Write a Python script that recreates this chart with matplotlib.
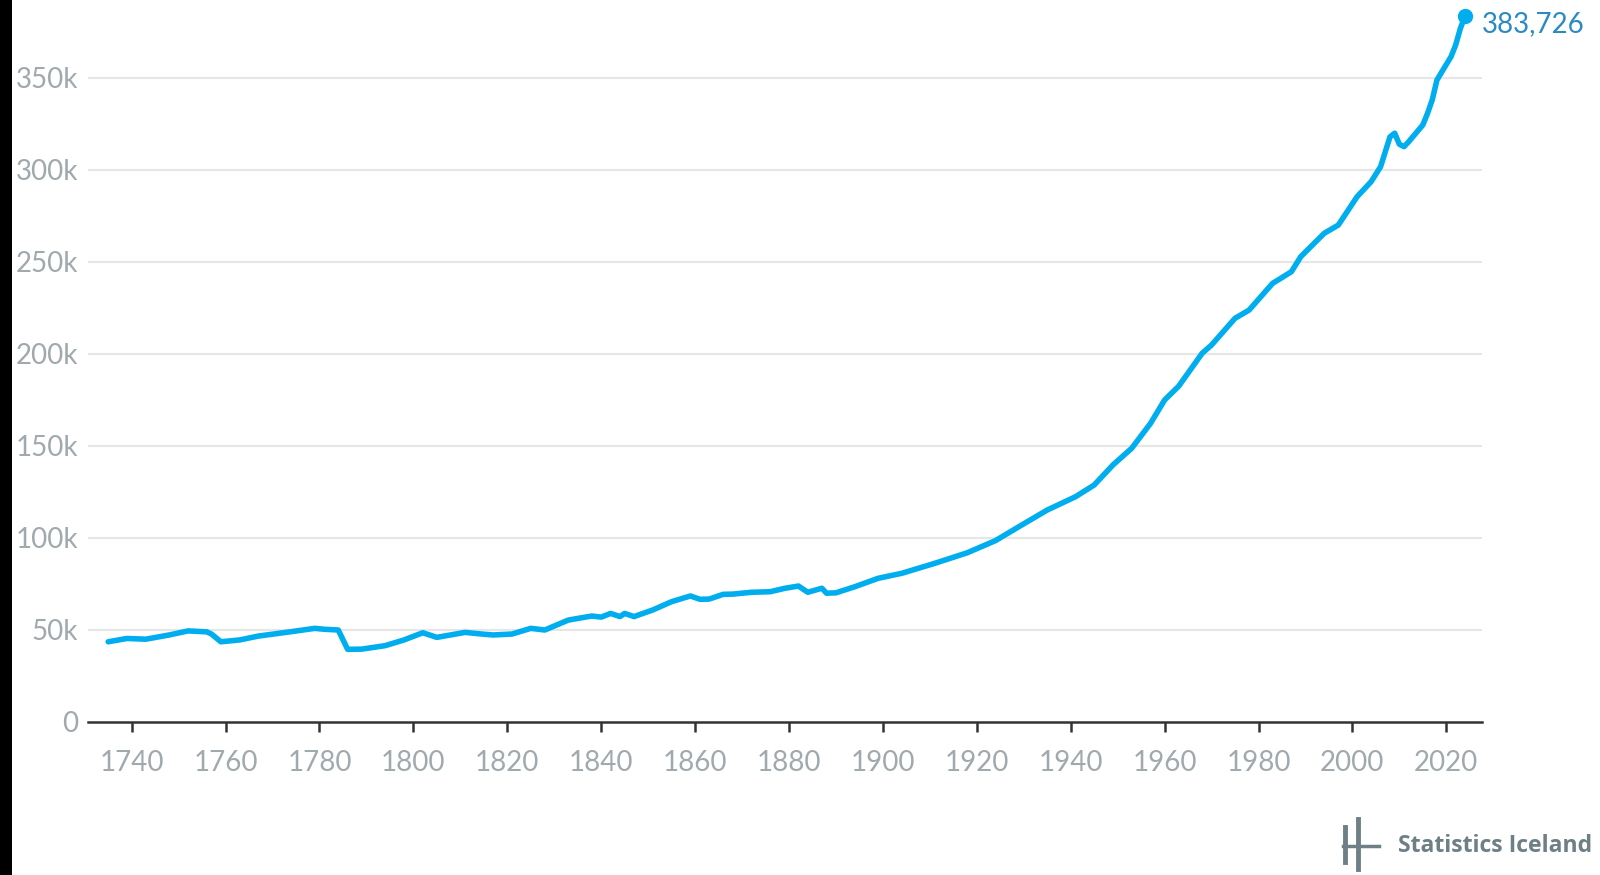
import matplotlib
matplotlib.use("Agg")
import matplotlib.pyplot as plt
from matplotlib.patches import Rectangle
from matplotlib.lines import Line2D

years = [1735, 1739, 1743, 1748, 1752, 1756, 1757, 1759, 1763, 1767, 1774, 1779,
         1781, 1784, 1786, 1789, 1794, 1798, 1802, 1805, 1811, 1815, 1817, 1821,
         1825, 1828, 1833, 1838, 1840, 1842, 1844, 1845, 1847, 1851, 1855, 1859,
         1861, 1863, 1866, 1868, 1872, 1876, 1879, 1882, 1884, 1887, 1888, 1890,
         1894, 1899, 1904, 1911, 1918, 1924, 1929, 1935, 1941, 1945, 1949, 1953,
         1957, 1960, 1963, 1968, 1970, 1975, 1978, 1983, 1987, 1989, 1994, 1997,
         2001, 2004, 2006, 2008, 2009, 2010, 2011, 2012, 2015, 2016, 2017, 2018,
         2021, 2022, 2023, 2024]
population = [43600, 45400, 45000, 47300, 49500, 49000, 47800, 43600, 44600, 46700,
              49100, 50900, 50400, 50000, 39500, 39600, 41500, 44600, 48500, 46000,
              48700, 47700, 47300, 47800, 50900, 50000, 55400, 57600, 57000, 59000,
              57300, 59000, 57300, 60900, 65400, 68500, 66700, 66800, 69400, 69500,
              70500, 70800, 72600, 73900, 70500, 72700, 70000, 70200, 73500, 78100,
              80800, 86200, 92000, 98600, 106200, 115200, 122400, 128800, 139700,
              148800, 162300, 175000, 182500, 200400, 204900, 219400, 223900, 238400,
              244700, 252900, 265600, 270100, 285500, 293700, 301800, 318000, 320000,
              314000, 312700, 315400, 324500, 330800, 338100, 348900, 361600, 368000,
              377000, 383726]
y_ticks = [0, 50000, 100000, 150000, 200000, 250000, 300000, 350000]
y_tick_labels = ["0", "50k", "100k", "150k", "200k", "250k", "300k", "350k"]
x_ticks = list(range(1740, 2021, 20))
end_label = "383,726"
brand = "Statistics Iceland"

LINE = "#00aeef"
GRID = "#e6e6e6"
TICK = "#a0a9ae"

W, H = 1600, 875
fig = plt.figure(figsize=(16, 8.75), dpi=100)
fig.patch.set_facecolor("white")

left_px, right_px, bottom_px = 88, 1482, 722
ymax = 390000
px_per_val = 92 / 50000
top_px = bottom_px - ymax * px_per_val
ax = fig.add_axes([left_px / W, (H - bottom_px) / H,
                   (right_px - left_px) / W, (bottom_px - top_px) / H])
ax.set_xlim(1730.7, 2027.6)
ax.set_ylim(0, ymax)

for yv in y_ticks[1:]:
    ax.axhline(yv, color=GRID, lw=1.5, zorder=1)

ax.plot(years, population, color=LINE, lw=4.0, solid_joinstyle="round",
        solid_capstyle="round", zorder=3)
ax.plot([years[-1]], [population[-1]], "o", color=LINE, ms=10, zorder=4, clip_on=False)
ax.annotate(end_label, (years[-1], population[-1]), xytext=(12, -6),
            textcoords="offset points", color="#2a8ac4", fontsize=20,
            family="Lato", va="center", ha="left", annotation_clip=False)

for s in ["top", "right", "left"]:
    ax.spines[s].set_visible(False)
ax.spines["bottom"].set_color("#333333")
ax.spines["bottom"].set_linewidth(1.8)

ax.set_yticks(y_ticks)
ax.set_yticklabels(y_tick_labels)
ax.set_xticks(x_ticks)
ax.set_xticklabels([str(x) for x in x_ticks])
ax.tick_params(axis="y", length=0, pad=7, labelsize=20, labelcolor=TICK)
ax.tick_params(axis="x", length=7, width=1.8, color="#333333", pad=13,
               labelsize=20, labelcolor=TICK)
for lab in ax.get_xticklabels() + ax.get_yticklabels():
    lab.set_family("Lato")

# black strip at left edge
fig.add_artist(Rectangle((0, 0), 12 / W, 1, transform=fig.transFigure,
                         facecolor="black", edgecolor="none", zorder=10))

# logo
LOGO = "#6e8086"
def fx(px):
    return px / W
def fy(py):
    return (H - py) / H
fig.add_artist(Line2D([fx(1345), fx(1345)], [fy(827), fy(843)], color=LOGO, lw=3.5,
                      transform=fig.transFigure))
fig.add_artist(Line2D([fx(1345), fx(1345)], [fy(849), fy(862)], color=LOGO, lw=3.5,
                      transform=fig.transFigure))
fig.add_artist(Line2D([fx(1358), fx(1358)], [fy(819), fy(869)], color=LOGO, lw=3.5,
                      transform=fig.transFigure))
fig.add_artist(Line2D([fx(1343), fx(1379)], [fy(846), fy(846)], color=LOGO, lw=2.5,
                      transform=fig.transFigure))
fig.text(fx(1398), fy(846), brand, color=LOGO, fontsize=16.6, family="Open Sans",
         weight="bold", va="center", ha="left")

fig.savefig("out.png", dpi=100, facecolor="white")
